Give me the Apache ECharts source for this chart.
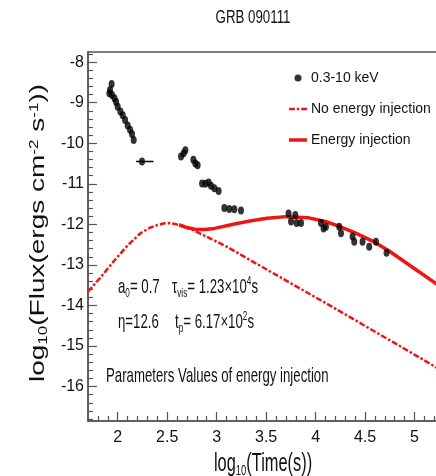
<!DOCTYPE html>
<html>
<head>
<meta charset="utf-8">
<script src="https://cdn.jsdelivr.net/npm/echarts@6/dist/echarts.min.js"></script>
<style>
  html, body { margin: 0; padding: 0; background: #fff; }
  #chart { width: 436px; height: 476px; }
</style>
</head>
<body>
<div id="chart"></div>
<script>
// X-ray data, 0.3-10 keV (log10 t, log10 flux)
var dataX = [1.939, 1.923, 1.916, 1.943, 1.967, 1.984, 2.000, 2.027, 2.051, 2.075, 2.101, 2.125, 2.145, 2.162,
  2.246,
  2.640, 2.667, 2.684, 2.765, 2.785, 2.808,
  2.853, 2.886, 2.919, 2.943, 2.977, 3.020,
  3.078, 3.128, 3.179, 3.246,
  3.727, 3.752, 3.795, 3.808, 3.853,
  4.055, 4.081, 4.105, 4.239, 4.257, 4.374, 4.391,
  4.475, 4.542, 4.610, 4.717];
var dataY = [-8.54, -8.69, -8.77, -8.81, -8.89, -8.98, -9.10, -9.22, -9.31, -9.43, -9.56, -9.67, -9.77, -9.92,
  -10.45,
  -10.33, -10.25, -10.17, -10.41, -10.50, -10.54,
  -10.99, -11.00, -10.97, -11.05, -11.11, -11.18,
  -11.60, -11.62, -11.63, -11.66,
  -11.73, -11.93, -11.77, -11.97, -11.97,
  -11.97, -12.10, -12.06, -12.06, -12.22, -12.30, -12.43,
  -12.43, -12.55, -12.43, -12.70];
// the one point drawn with a horizontal error bar
var errBarX = [2.186, 2.361];
var errBarY = [-10.45, -10.45];

// model without energy injection
var noInjX = [1.70, 1.83, 1.96, 2.10, 2.23, 2.32, 2.40, 2.46, 2.52, 2.58, 2.67, 2.77, 2.87, 3.11, 3.31, 3.51, 3.77, 4.10, 4.44, 4.78, 5.20, 5.40];
var noInjY = [-13.66, -13.30, -12.91, -12.52, -12.22, -12.09, -12.02, -11.98, -11.97, -11.99, -12.06, -12.15, -12.27, -12.56, -12.84, -13.12, -13.48, -13.94, -14.42, -14.90, -15.50, -15.79];

// model with energy injection
var injX = [2.62, 2.70, 2.78, 2.88, 2.98, 3.18, 3.35, 3.51, 3.70, 3.93, 4.10, 4.24, 4.40, 4.58, 4.74, 4.91, 5.21, 5.40];
var injY = [-12.01, -12.08, -12.12, -12.13, -12.10, -11.99, -11.91, -11.85, -11.81, -11.84, -11.93, -12.05, -12.21, -12.42, -12.65, -12.94, -13.45, -13.78];

// axes
var xTicks = [2, 2.5, 3, 3.5, 4, 4.5, 5, 5.5];
var yTicks = [-16, -15, -14, -13, -12, -11, -10, -9, -8];
var xMinor = [];
for (var i = 18; i <= 55; i++) { if (i % 5) xMinor.push(i / 10); }
var yMinor = [];
for (var j = -84; j <= -39; j++) { if (j % 5) yMinor.push(j / 5); }

function pairs(xs, ys) {
  return xs.map(function (x, k) { return [x, ys[k]]; });
}

var SANS = "'Liberation Sans', Arial, sans-serif";
var AXC = '#555';
var RED = '#ee1515';
var SQ = 0.63; // the figure is squeezed sideways, text too

var chart = echarts.init(document.getElementById('chart'), null, { renderer: 'canvas' });

var subStyle = { fontSize: 13, fontFamily: SANS, padding: [12, 0, 0, 0], fill: '#111' };
var supStyle = { fontSize: 13, fontFamily: SANS, padding: [0, 0, 12, 0], fill: '#111' };

// legend icons drawn as paths so the dash-dot shows
var dashDotIcon = 'path://M0,0h6v2.5h-6zM8,0h2.5v2.5h-2.5zM12.5,0h6v2.5h-6z';
var solidIcon = 'path://M0,0h18v3.5h-18z';

var option = {
  animation: false,
  backgroundColor: '#fff',
  grid: {
    left: 88, top: 52, width: 376, height: 369,
    outerBoundsMode: 'none',
    show: true, borderColor: AXC, borderWidth: 1.5, backgroundColor: 'transparent'
  },
  legend: {
    data: [
      { name: '0.3-10 keV', icon: 'circle' },
      { name: 'No energy injection', icon: dashDotIcon },
      { name: 'Energy injection', icon: solidIcon }
    ],
    orient: 'vertical',
    left: 289, top: 71,
    itemGap: 17, itemWidth: 18, itemHeight: 7,
    padding: 0,
    textStyle: { fontSize: 14, fontFamily: SANS, color: '#111', padding: [0, 0, 0, -1] }
  },
  xAxis: [{
    type: 'value', min: 1.7, max: 5.5,
    axisLine: { lineStyle: { color: AXC, width: 1.5 } },
    axisTick: { inside: true, length: 9, customValues: xTicks, lineStyle: { color: AXC, width: 1.2 } },
    axisLabel: { customValues: xTicks, margin: 9, fontSize: 16, fontFamily: SANS, color: '#111' },
    splitLine: { show: false }
  }, {
    type: 'value', min: 1.7, max: 5.5, position: 'bottom',
    axisLine: { show: false },
    axisTick: { inside: true, length: 5, customValues: xMinor, lineStyle: { color: AXC, width: 1.2 } },
    axisLabel: { show: false },
    splitLine: { show: false }
  }],
  yAxis: [{
    type: 'value', min: -16.85, max: -7.75,
    axisLine: { lineStyle: { color: AXC, width: 1.5 } },
    axisTick: { inside: true, length: 9, customValues: yTicks, lineStyle: { color: AXC, width: 1.2 } },
    axisLabel: { customValues: yTicks, margin: 4, fontSize: 16, fontFamily: SANS, color: '#111' },
    splitLine: { show: false }
  }, {
    type: 'value', min: -16.85, max: -7.75, position: 'left',
    axisLine: { show: false },
    axisTick: { inside: true, length: 5, customValues: yMinor, lineStyle: { color: AXC, width: 1.2 } },
    axisLabel: { show: false },
    splitLine: { show: false }
  }],
  series: [{
    name: 'No energy injection',
    type: 'line',
    data: pairs(noInjX, noInjY),
    showSymbol: false, symbol: 'none',
    lineStyle: { color: RED, width: 2.5, type: [6, 2, 2.5, 2] },
    itemStyle: { color: RED },
    z: 2
  }, {
    name: 'Energy injection',
    type: 'line',
    data: pairs(injX, injY),
    showSymbol: false, symbol: 'none',
    lineStyle: { color: RED, width: 3.5, join: 'round' },
    itemStyle: { color: RED },
    z: 3
  }, {
    name: 'err',
    type: 'line',
    data: pairs(errBarX, errBarY),
    showSymbol: false, symbol: 'none',
    lineStyle: { color: '#000', width: 1.5 },
    silent: true,
    z: 4
  }, {
    name: '0.3-10 keV',
    type: 'scatter',
    data: pairs(dataX, dataY),
    symbol: 'circle', symbolSize: [6, 8],
    itemStyle: { color: '#000' },
    z: 5
  }],
  graphic: [{
    type: 'text', x: 253, y: 18, scaleX: 0.7,
    style: { text: 'GRB 090111', align: 'center', verticalAlign: 'middle', fontSize: 19, fontFamily: SANS, fill: '#111' }
  }, {
    type: 'text', x: 263, y: 464, scaleX: SQ,
    style: {
      text: 'log{sub|10}(Time(s))',
      align: 'center', verticalAlign: 'middle',
      fontSize: 26, fontFamily: SANS, fill: '#111',
      rich: { sub: { fontSize: 15, fontFamily: SANS, padding: [14, 0, 0, 0], fill: '#111' } }
    }
  }, {
    type: 'text', x: 39, y: 233, rotation: Math.PI / 2, scaleY: 0.7,
    style: {
      text: 'log{sub|10}(Flux(ergs cm{sup|-2} s{sup|-1}))',
      align: 'center', verticalAlign: 'middle',
      fontSize: 28, fontFamily: SANS, fill: '#111',
      rich: {
        sub: { fontSize: 17, fontFamily: SANS, padding: [13, 0, 0, 0], fill: '#111' },
        sup: { fontSize: 17, fontFamily: SANS, padding: [0, 0, 13, 0], fill: '#111' }
      }
    }
  }, {
    type: 'text', x: 118, y: 287, scaleX: SQ,
    style: {
      text: 'a{sub|0}= 0.7', verticalAlign: 'middle',
      fontSize: 21, fontFamily: SANS, fill: '#111', rich: { sub: subStyle }
    }
  }, {
    type: 'text', x: 172, y: 287, scaleX: SQ,
    style: {
      text: '\u03c4{sub|vis}= 1.23\u00d710{sup|4}s', verticalAlign: 'middle',
      fontSize: 21, fontFamily: SANS, fill: '#111', rich: { sub: subStyle, sup: supStyle }
    }
  }, {
    type: 'text', x: 118, y: 322, scaleX: SQ,
    style: {
      text: '\u03b7=12.6', verticalAlign: 'middle',
      fontSize: 21, fontFamily: SANS, fill: '#111'
    }
  }, {
    type: 'text', x: 175, y: 322, scaleX: SQ,
    style: {
      text: 't{sub|p}= 6.17\u00d710{sup|2}s', verticalAlign: 'middle',
      fontSize: 21, fontFamily: SANS, fill: '#111', rich: { sub: subStyle, sup: supStyle }
    }
  }, {
    type: 'text', x: 106, y: 376, scaleX: SQ,
    style: {
      text: 'Parameters Values of energy injection', verticalAlign: 'middle',
      fontSize: 21, fontFamily: SANS, fill: '#111'
    }
  }]
};

chart.setOption(option);
</script>
</body>
</html>
